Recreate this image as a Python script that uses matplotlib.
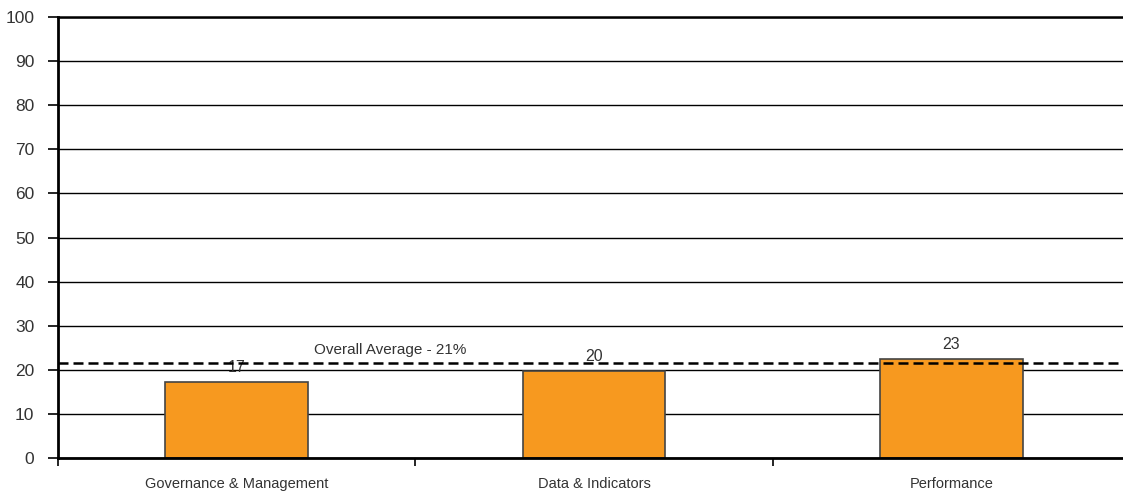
import numpy as np
import matplotlib.pyplot as plt

categories = ['Governance & Management', 'Data & Indicators', 'Performance']
values = [17.2, 19.8, 22.5]
labels = ['17', '20', '23']
overall_avg = 21.5
avg_text = 'Overall Average - 21%'

plt.rcParams['font.family'] = ['Liberation Sans', 'DejaVu Sans']

fig = plt.figure(figsize=(11.23, 4.95), dpi=100)
ax = fig.add_axes([58/1123, 1-458/495, (1130-58)/1123, (458-17)/495])

x = np.arange(len(categories))
ax.set_axisbelow(True)
ax.yaxis.grid(True, color='black', linewidth=1.0)
ax.bar(x, values, width=0.4, color='#F7991F', edgecolor='#444444', linewidth=1.2, zorder=2)

for xi, v, lab in zip(x, values, labels):
    ax.annotate(lab, (xi, v), xytext=(0, 5), textcoords='offset points',
                ha='center', va='bottom', fontsize=11.5, color='#333333', zorder=1)

ax.axhline(overall_avg, color='black', linestyle=(0, (4, 2)), linewidth=1.8, zorder=3)
ax.text(0.43, overall_avg + 1.3, avg_text, ha='center', va='bottom', fontsize=11, color='#333333')

ax.set_xlim(-0.5, len(categories) - 0.5)
ax.set_ylim(0, 100)
ax.set_yticks(np.arange(0, 101, 10))
ax.tick_params(axis='y', direction='out', length=7, width=1.2, labelsize=12.5, labelcolor='#333333', pad=10)

ax.set_xticks(np.arange(-0.5, len(categories), 1.0))
ax.set_xticklabels([])
ax.tick_params(axis='x', direction='out', length=6, width=1.2)
ax.set_xticks(x, minor=True)
ax.set_xticklabels(categories, minor=True, fontsize=10.5, color='#333333')
ax.tick_params(axis='x', which='minor', length=0, pad=14)

for s in ['left', 'bottom']:
    ax.spines[s].set_linewidth(2)
ax.spines['top'].set_linewidth(1.8)
ax.spines['right'].set_visible(False)

fig.savefig('out.png', dpi=100)
